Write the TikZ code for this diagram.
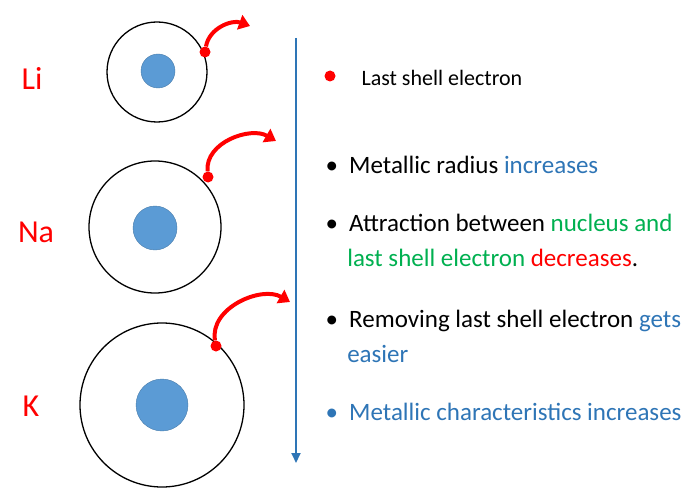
\documentclass[tikz,border=0pt]{standalone}
\usepackage{fontspec}
\setmainfont{Carlito}
\usetikzlibrary{arrows.meta}
\definecolor{tblue}{RGB}{46,117,182}
\definecolor{tgreen}{RGB}{0,176,80}
\definecolor{nucl}{RGB}{91,155,213}
\tikzset{
  shell/.style={draw,line width=1.3pt,circle},
  nucleus/.style={circle,fill=nucl,draw=nucl!80!black,inner sep=0pt},
  electron/.style={circle,fill=red,inner sep=0pt,minimum size=11pt},
  jump/.style={red,line width=4pt,-{Triangle[length=11pt,width=15pt]}},
  atomname/.style={text=red,font=\fontsize{32}{36}\selectfont},
  point/.style={anchor=west,align=left,font=\fontsize{25}{35}\selectfont}
}
\begin{document}
\begin{tikzpicture}[x=1pt,y=-1pt]
\useasboundingbox (0,0) rectangle (700,489);
% Li
\node (lishell) [shell,minimum size=100pt] at (157,72) {};
\node (linuc) [nucleus,minimum size=34pt] at (158,71) {};
\node (lie) [electron] at (205,52) {};
\coordinate (liend) at (250,26);
\draw [jump] (lie) to[out=80,in=160] (liend);
\node (li) [atomname] at (32,78) {Li};
% Na
\node (nashell) [shell,minimum size=132pt] at (155,227) {};
\node (nanuc) [nucleus,minimum size=44pt] at (155,228) {};
\node (nae) [electron] at (208,177) {};
\coordinate (naend) at (276,141);
\draw [jump] (nae) to[out=95,in=150] (naend);
\node (na) [atomname] at (36,232) {Na};
% K
\node (kshell) [shell,minimum size=164pt] at (162,405) {};
\node (knuc) [nucleus,minimum size=52pt] at (162,405) {};
\node (ke) [electron] at (216,346) {};
\coordinate (kend) at (290,302);
\draw [jump] (ke) to[out=100,in=150] (kend);
\node (k) [atomname] at (31,406) {K};
% trend arrow
\coordinate (top) at (296,38);
\coordinate (bottom) at (296,463);
\draw [tblue,line width=1.8pt,-{Triangle[length=10pt,width=9pt]}] (top) -- (bottom);
% legend
\node (key) [electron] at (330,76) {};
\node (keytext) [anchor=west,font=\fontsize{22}{26}\selectfont] at (358,78) {Last shell electron};
% points
\node (p1) [point] at (322,165) {•\hspace{0.45em}Metallic radius \textcolor{tblue}{increases}};
\node (p2) [point] at (322,240) {•\hspace{0.45em}Attraction between \textcolor{tgreen}{nucleus and}\\
  \hspace*{0.87em}\textcolor{tgreen}{last shell electron} \textcolor{red}{decreases}.};
\node (p3) [point] at (322,336) {•\hspace{0.45em}Removing last shell electron \textcolor{tblue}{gets}\\
  \hspace*{0.87em}\textcolor{tblue}{easier}};
\node (p4) [point,text=tblue] at (322,412) {•\hspace{0.45em}Metallic characteristics increases};
\end{tikzpicture}
\end{document}
